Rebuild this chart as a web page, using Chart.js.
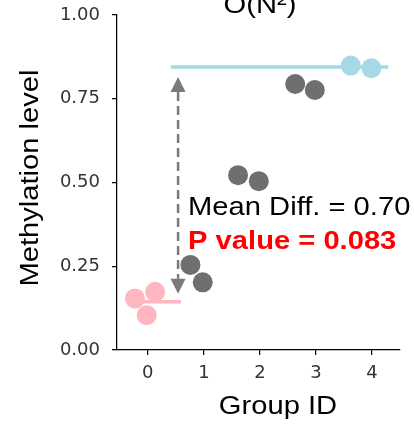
<!DOCTYPE html>
<html>
<head>
<meta charset="utf-8">
<script src="https://cdn.jsdelivr.net/npm/chart.js@4"></script>
<style>
  html, body { margin: 0; padding: 0; background: #fff; }
</style>
</head>
<body>
<canvas id="chart" width="414" height="425"></canvas>
<script>
// values
const groupIds = [0, 1, 2, 3, 4];
const yTicks = [0, 0.25, 0.5, 0.75, 1];

// swarm points (x is jittered around the group id)
const pinkX = [-0.23, 0.13, -0.02];
const pinkY = [0.154, 0.174, 0.104];
const grayX = [0.76, 0.98, 1.61, 1.98, 2.63, 2.98];
const grayY = [0.254, 0.202, 0.522, 0.504, 0.794, 0.776];
const blueX = [3.62, 3.99];
const blueY = [0.849, 0.841];

// extent of the two mean lines and where the arrow sits
const pinkLineX = [-0.09, 0.59];
const blueLineX = [0.41, 4.29];
const arrowX = 0.54;

const titleText = 'O(N²)';
const diffText = 'Mean Diff. = 0.70';
const pText = 'P value = 0.083';
const xTitle = 'Group ID';
const yTitle = 'Methylation level';

const PINK = '#ffb6c1';
const GRAY = '#6f6f6f';
const BLUE = '#a6d8e6';
const ARROW = '#7a7a7a';

const mean = arr => arr.reduce((a, b) => a + b, 0) / arr.length;
const pinkMean = mean(pinkY);
const blueMean = mean(blueY);

const pts = (xs, ys) => xs.map((x, i) => ({ x: x, y: ys[i] }));

// text in the picture is a bit wider than plain Arial, so stretch it
function drawText(ctx, text, x, y, font, color, align, rot) {
    ctx.save();
    ctx.translate(x, y);
    if (rot) ctx.rotate(rot);
    ctx.scale(1.1, 1);
    ctx.font = font;
    ctx.fillStyle = color;
    ctx.textAlign = align;
    ctx.textBaseline = 'alphabetic';
    ctx.fillText(text, 0, 0);
    ctx.restore();
}

const annotations = {
    id: 'annotations',
    afterDatasetsDraw(chart) {
        const ctx = chart.ctx;
        const xs = chart.scales.x, ys = chart.scales.y;
        const ax = xs.getPixelForValue(arrowX);
        const yTop = ys.getPixelForValue(blueMean) + 10;
        const yBot = ys.getPixelForValue(pinkMean) - 8;
        const head = 15, half = 7.5;

        ctx.save();
        // dashed shaft
        ctx.strokeStyle = ARROW;
        ctx.lineWidth = 2.5;
        ctx.setLineDash([9, 5]);
        ctx.beginPath();
        ctx.moveTo(ax, yTop + head);
        ctx.lineTo(ax, yBot - head);
        ctx.stroke();
        ctx.setLineDash([]);
        // heads
        ctx.fillStyle = ARROW;
        ctx.beginPath();
        ctx.moveTo(ax, yTop);
        ctx.lineTo(ax - half, yTop + head);
        ctx.lineTo(ax + half, yTop + head);
        ctx.closePath();
        ctx.fill();
        ctx.beginPath();
        ctx.moveTo(ax, yBot);
        ctx.lineTo(ax - half, yBot - head);
        ctx.lineTo(ax + half, yBot - head);
        ctx.closePath();
        ctx.fill();
        ctx.restore();

        const font = '26.5px "Liberation Sans", Arial, sans-serif';
        drawText(ctx, diffText, ax + 10, 215, font, '#000', 'left');
        drawText(ctx, pText, ax + 10, 249, 'bold ' + font, '#ff0000', 'left');
        drawText(ctx, titleText, 260, 13, font, '#000', 'center');
        drawText(ctx, xTitle, 278, 414, font, '#000', 'center');
        drawText(ctx, yTitle, 38, 178, font, '#000', 'center', -Math.PI / 2);
    }
};

const tickFont = { family: 'DejaVu Sans', size: 18 };

new Chart(document.getElementById('chart'), {
    type: 'scatter',
    data: {
        datasets: [
            { data: pts(pinkX, pinkY), backgroundColor: PINK, pointRadius: 10, pointHoverRadius: 10, borderWidth: 0 },
            { data: pts(grayX, grayY), backgroundColor: GRAY, pointRadius: 10, pointHoverRadius: 10, borderWidth: 0 },
            { data: pts(blueX, blueY), backgroundColor: BLUE, pointRadius: 10, pointHoverRadius: 10, borderWidth: 0 },
            {
                type: 'line',
                data: pts(pinkLineX, [pinkMean, pinkMean]),
                borderColor: PINK, borderWidth: 3.5, pointRadius: 0, fill: false
            },
            {
                type: 'line',
                data: pts(blueLineX, [blueMean, blueMean]),
                borderColor: BLUE, borderWidth: 3.5, pointRadius: 0, fill: false
            }
        ]
    },
    options: {
        responsive: false,
        animation: false,
        events: [],
        layout: { padding: { top: 15, right: 14, left: 0, bottom: 0 } },
        plugins: { legend: { display: false }, tooltip: { enabled: false } },
        scales: {
            x: {
                type: 'linear',
                min: -0.55,
                max: 4.5,
                afterBuildTicks: s => { s.ticks = groupIds.map(v => ({ value: v })); },
                afterFit: s => { s.height = 75; s.paddingLeft = 0; s.paddingRight = 0; },
                ticks: { font: tickFont, color: '#333', padding: 8, maxRotation: 0 },
                grid: { drawOnChartArea: false, drawTicks: true, tickLength: 5, color: '#000', lineWidth: 1.25 },
                border: { display: true, color: '#000', width: 1.25 }
            },
            y: {
                min: 0,
                max: 1,
                afterBuildTicks: s => { s.ticks = yTicks.map(v => ({ value: v })); },
                afterFit: s => { s.width = 117; s.paddingTop = 0; s.paddingBottom = 0; },
                ticks: { font: tickFont, color: '#333', padding: 12, callback: v => v.toFixed(2) },
                grid: { drawOnChartArea: false, drawTicks: true, tickLength: 5, color: '#000', lineWidth: 1.25 },
                border: { display: true, color: '#000', width: 1.25 }
            }
        }
    },
    plugins: [annotations]
});
</script>
</body>
</html>
